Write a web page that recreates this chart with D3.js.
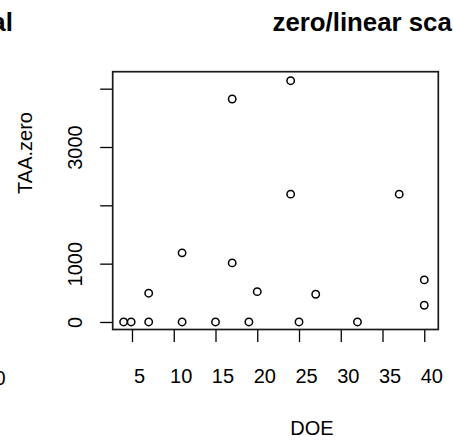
<!DOCTYPE html>
<html>
<head>
<meta charset="utf-8">
<script src="https://cdn.jsdelivr.net/npm/d3@7"></script>
<style>
  html, body { margin: 0; padding: 0; background: #fff; }
  svg { display: block; font-family: "Liberation Sans", Arial, sans-serif; }
</style>
</head>
<body>
<svg id="chart" width="453" height="440"></svg>
<script>
// Data
const DOE = [4, 4.9, 7, 7, 11, 11, 15, 17, 17, 19, 20, 24, 24, 25, 27, 32, 37, 40, 40];
const TAA = [0, 0, 0, 493, 0, 1185, 0, 3823, 1013, 0, 520, 4137, 2192, 0, 475, 0, 2192, 721, 287];
const xTicks = [5, 10, 15, 20, 25, 30, 35, 40];
const yTicks = [0, 1000, 2000, 3000, 4000];
const yTickLabels = ["0", "1000", "", "3000", ""];
const titleText = "zero/linear sca";
const prevTitleText = "al";
const prevTickText = "0";
const xLabel = "DOE";
const yLabel = "TAA.zero";

const svg = d3.select("#chart");
const box = { left: 112.7, right: 438.3, top: 71.7, bottom: 329.5 };

const x = d3.scaleLinear().domain([2.69, 41.68]).range([box.left, box.right]);
const y = d3.scaleLinear().domain([-129, 4291]).range([box.bottom, box.top]);

// x axis
const xAxis = d3.axisBottom(x).tickValues(xTicks).tickSize(12.5).tickPadding(27).tickFormat(d3.format("d"));
const gx = svg.append("g").attr("transform", `translate(0,${box.bottom})`).call(xAxis);
gx.select(".domain").remove();
gx.selectAll(".tick line").attr("stroke", "#000").attr("stroke-width", 1.3);
gx.selectAll(".tick text").attr("font-size", 20).attr("fill", "#000")
  .attr("dx", 7)
  .attr("font-family", "Liberation Sans, Arial, sans-serif");

// y axis
const yAxis = d3.axisLeft(y).tickValues(yTicks).tickSize(12.5).tickPadding(0)
  .tickFormat((d, i) => yTickLabels[i]);
const gy = svg.append("g").attr("transform", `translate(${box.left},0)`).call(yAxis);
gy.select(".domain").remove();
gy.selectAll(".tick line").attr("stroke", "#000").attr("stroke-width", 1.3);
gy.selectAll(".tick text")
  .attr("font-size", 20).attr("fill", "#000")
  .attr("font-family", "Liberation Sans, Arial, sans-serif")
  .attr("x", null).attr("dy", null)
  .attr("text-anchor", "middle")
  .attr("transform", "translate(-31,0) rotate(-90)");

// box
svg.append("rect")
  .attr("x", box.left).attr("y", box.top)
  .attr("width", box.right - box.left).attr("height", box.bottom - box.top)
  .attr("fill", "none").attr("stroke", "#1a1a1a").attr("stroke-width", 1.7);

// points
svg.append("g").selectAll("circle")
  .data(DOE.map((d, i) => ({ d, t: TAA[i] })))
  .join("circle")
  .attr("cx", p => x(p.d)).attr("cy", p => y(p.t)).attr("r", 3.7)
  .attr("fill", "none").attr("stroke", "#000").attr("stroke-width", 1.5);

// titles and labels
svg.append("text").attr("x", 272.5).attr("y", 31)
  .attr("font-size", 25.8).attr("font-weight", "bold").text(titleText);
svg.append("text").attr("x", 12.8).attr("y", 31).attr("text-anchor", "end")
  .attr("font-size", 25.8).attr("font-weight", "bold").text(prevTitleText);
svg.append("text").attr("x", 5.5).attr("y", 385).attr("text-anchor", "end")
  .attr("font-size", 20).text(prevTickText);
svg.append("text").attr("x", 312).attr("y", 435)
  .attr("text-anchor", "middle").attr("font-size", 20).text(xLabel);
svg.append("text")
  .attr("transform", `translate(32,153) rotate(-90)`)
  .attr("text-anchor", "middle").attr("font-size", 20).text(yLabel);
</script>
</body>
</html>
